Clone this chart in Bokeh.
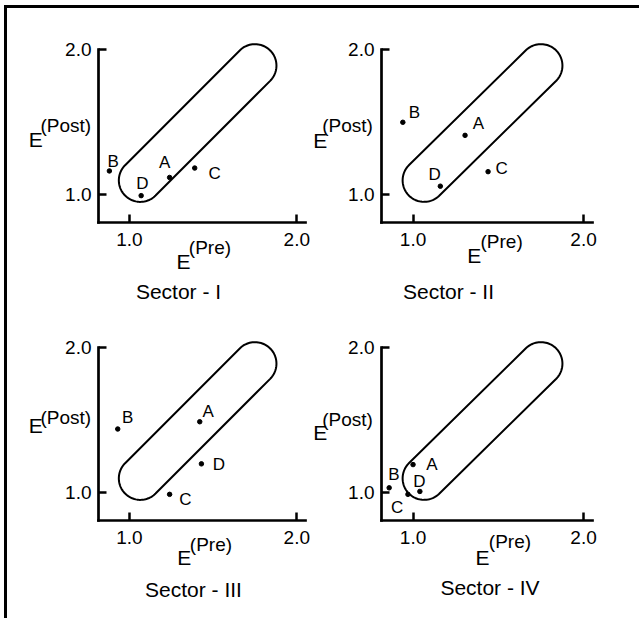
import numpy as np
from bokeh.plotting import figure
from bokeh.models import Label, FixedTicker, PrintfTickFormatter, Spacer, ColumnDataSource
from bokeh.layouts import row, column
from bokeh.embed import file_html
from bokeh.resources import INLINE
from bokeh.core.properties import value

# ---------------- data ----------------
sector_names = ["Sector - I", "Sector - II", "Sector - III", "Sector - IV"]
point_names = ["A", "B", "C", "D"]
pre_I = [1.24, 0.88, 1.39, 1.07]
post_I = [1.12, 1.165, 1.185, 0.995]
pre_II = [1.305, 0.94, 1.44, 1.16]
post_II = [1.41, 1.50, 1.16, 1.06]
pre_III = [1.42, 0.93, 1.24, 1.43]
post_III = [1.49, 1.44, 0.99, 1.20]
pre_IV = [1.00, 0.86, 0.97, 1.04]
post_IV = [1.195, 1.035, 0.99, 1.01]
tick_values = [1.0, 2.0]
band_start = (1.065, 1.10)   # (E Pre, E Post) centre of the lower end of the band
band_end = (1.75, 1.89)      # centre of the upper end of the band

pre_values = [pre_I, pre_II, pre_III, pre_IV]
post_values = [post_I, post_II, post_III, post_IV]

# ---------------- layout / style ----------------
FONT = "Liberation Sans"
X0, X1 = 0.815, 2.07          # axis origin / nominal frame end (E Pre)
Y0, Y1 = 0.81, 2.07           # axis origin / nominal frame end (E Post)
X_AXIS_END, Y_AXIS_END = 2.05, 2.0
BAND_RADIUS_PX = 21.5
FRAME_H = 183
BASELINE_FIX = {"21px": 8.0, "19px": 6.0}   # px the labels are raised
POINT_LABEL_FIX = -4.0

# per panel: fig width, height, axis-origin px from left, px from top of fig, plot width in px
fig_geom = [
    (304, 298, 91, 31 + FRAME_H, 210),
    (328, 298, 70, 31 + FRAME_H, 214),
    (304, 312, 91, 31 + FRAME_H, 210),
    (328, 312, 70, 31 + FRAME_H, 214),
]
# E(Post): base/sup x offsets from axis, heights above x axis (base, sup)
post_lab = [(-69.7, -58.0, 75.3, 91.0), (-68.3, -59.3, 74.0, 91.3),
            (-69.7, -58.0, 86.7, 96.7), (-68.3, -59.3, 80.0, 95.0)]
# E(Pre): base/sup x offsets from y axis, depths below x axis (base, sup)
pre_lab = [(78.0, 90.3, 47.3, 31.0), (85.7, 99.0, 41.3, 24.7),
           (78.7, 91.3, 45.0, 30.0), (94.0, 107.3, 45.0, 27.3)]
# sector title: centre x offset from y axis, baseline depth below x axis
title_lab = [(80.0, 77.0), (67.0, 77.0), (95.0, 76.7), (108.5, 75.0)]
# point label offsets (dx, dy) in px, order A, B, C, D
pt_off = [
    [(-5, -10.6), (3.7, -5.5), (20, 9.2), (1.2, -8.2)],
    [(13.3, -8.1), (11.6, -5.9), (13.5, 0.4), (-5.6, -7.7)],
    [(8.4, -6.1), (9.9, -7.7), (15.7, 9.0), (17.4, 4.5)],
    [(18.9, 4.3), (4.8, -9.7), (-10.8, 17.3), (-0.4, -6.3)],
]


def band_outline(c1, c2, r, sx, sy, n=48):
    u1, v1 = c1[0] * sx, c1[1] * sy
    u2, v2 = c2[0] * sx, c2[1] * sy
    th = np.arctan2(v2 - v1, u2 - u1)
    a_end = np.linspace(th - np.pi / 2, th + np.pi / 2, n)
    a_start = np.linspace(th + np.pi / 2, th + 3 * np.pi / 2, n)
    us = np.concatenate([u2 + r * np.cos(a_end), u1 + r * np.cos(a_start)])
    vs = np.concatenate([v2 + r * np.sin(a_end), v1 + r * np.sin(a_start)])
    return list(us / sx), list(vs / sy)


def lab(p, x, y_px_above_axis, sy, xoff, text, size, align="left"):
    y = Y0 + (y_px_above_axis + BASELINE_FIX[size]) / sy
    p.add_layout(Label(x=x, y=y, x_offset=xoff, text=text, text_font=FONT,
                       text_font_size=size, text_color="black",
                       text_align=align, text_baseline="alphabetic"))


figs = []
for i in range(4):
    W, H, ox, oy, fw = fig_geom[i]
    sx, sy = fw / (X1 - X0), FRAME_H / (Y1 - Y0)
    xr = (X0 - ox / sx, X0 + (W - ox) / sx)
    yr = (Y0 - (H - oy) / sy, Y0 + oy / sy)
    p = figure(width=W, height=H, x_range=xr, y_range=yr,
               output_backend="svg", toolbar_location=None,
               min_border_left=0, min_border_right=0,
               min_border_top=0, min_border_bottom=0)
    p.outline_line_color = None
    p.grid.visible = False
    p.background_fill_color = "white"
    p.border_fill_color = "white"

    p.xaxis.fixed_location = Y0
    p.yaxis.fixed_location = X0
    p.xaxis.ticker = FixedTicker(ticks=tick_values)
    p.yaxis.ticker = FixedTicker(ticks=tick_values)
    p.xaxis.formatter = PrintfTickFormatter(format="%.1f")
    p.yaxis.formatter = PrintfTickFormatter(format="%.1f")
    p.xaxis.bounds = (X0, X_AXIS_END)
    p.yaxis.bounds = (Y0, Y_AXIS_END)
    for ax in (p.xaxis[0], p.yaxis[0]):
        ax.axis_line_width = 2.7
        ax.axis_line_color = "black"
        ax.axis_line_cap = "square"
        ax.major_tick_in = 8
        ax.major_tick_out = 0
        ax.major_tick_line_width = 2.5
        ax.major_tick_line_color = "black"
        ax.minor_tick_line_color = None
        ax.major_label_text_font_size = "19px"
        ax.major_label_text_font = FONT
        ax.major_label_text_color = "black"
    p.yaxis.major_label_standoff = 7
    p.xaxis.major_label_standoff = 10

    bx, by = band_outline(band_start, band_end, BAND_RADIUS_PX, sx, sy)
    p.patch(bx, by, fill_color=None, line_color="black", line_width=2)

    src = ColumnDataSource(dict(x=pre_values[i], y=post_values[i], t=point_names,
                                dx=[o[0] for o in pt_off[i]],
                                dy=[o[1] + POINT_LABEL_FIX for o in pt_off[i]]))
    p.scatter("x", "y", source=src, size=4.5, color="black")
    p.text("x", "y", text="t", source=src, x_offset="dx", y_offset="dy",
           text_font=value(FONT), text_font_size="17px", text_color="black",
           text_align="center", text_baseline="alphabetic")

    ex, sxo, e_h, s_h = post_lab[i]
    lab(p, X0, e_h, sy, ex, "E", "21px")
    lab(p, X0, s_h, sy, sxo, "(Post)", "19px")
    ex, sxo, e_d, s_d = pre_lab[i]
    lab(p, X0, -e_d, sy, ex, "E", "21px")
    lab(p, X0, -s_d, sy, sxo, "(Pre)", "19px")
    tx, td = title_lab[i]
    lab(p, X0, -td, sy, tx, sector_names[i], "21px", align="center")
    figs.append(p)

grid = column(row(figs[0], figs[1]), row(figs[2], figs[3]))
total_w = fig_geom[0][0] + fig_geom[1][0]
total_h = fig_geom[0][1] + fig_geom[2][1]
left_bar = Spacer(width=3, height=total_h, styles={"background-color": "black"})
top_bar = Spacer(width=3 + total_w, height=3, styles={"background-color": "black"})
root = column(top_bar, row(left_bar, grid), margin=(5, 0, 0, 4))

open("out.html", "w").write(file_html(root, INLINE))
